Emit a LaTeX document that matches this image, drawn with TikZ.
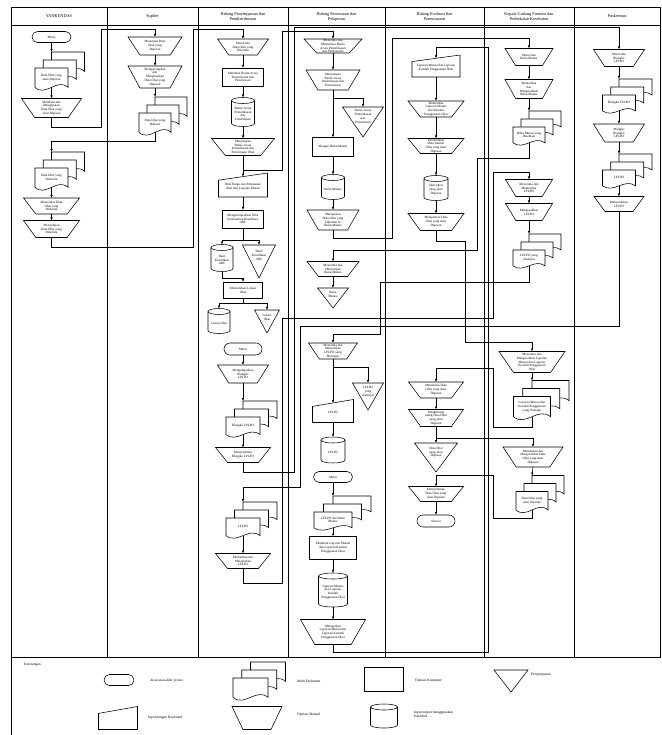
\documentclass[tikz,border=0pt]{standalone}
\usepackage{fontspec}
\setmainfont{Liberation Serif}
\usetikzlibrary{shapes.misc,arrows.meta,calc}
\newcommand\fsA{\fontsize{3.3}{3.8}\selectfont}
\newcommand\fsH{\fontsize{4.3}{5}\selectfont}
\newcommand\fsL{\fontsize{3.6}{4.2}\selectfont}
\tikzset{
 shp/.style={draw=black, line width=0.55pt, fill=white},
 ln/.style={draw=black, line width=0.55pt},
 con/.style={draw=black, line width=0.55pt, -{Latex[length=3pt,width=2.4pt]}},
 lane/.style={draw=black, line width=0.7pt},
 txt/.style={font=\fsA, align=center, inner sep=0pt},
 box/.style={draw=none, inner sep=0pt, outer sep=0pt},
 lgt/.style={font=\fsL, anchor=west, align=left, inner sep=0pt},
 hdr/.style={font=\fsH, align=center, inner sep=0pt},
}
% manual operation (trapezoid)
\newcommand\xMO[6]{%
 \pgfmathsetmacro\MOa{#2-#4/2}\pgfmathsetmacro\MOb{#2+#4/2}%
 \pgfmathsetmacro\MOc{#2+0.28*#4}\pgfmathsetmacro\MOd{#2-0.28*#4}%
 \pgfmathsetmacro\MOt{#3-#5/2}\pgfmathsetmacro\MOu{#3+#5/2}%
 \draw[shp] (\MOa,\MOt) -- (\MOb,\MOt) -- (\MOc,\MOu) -- (\MOd,\MOu) -- cycle;
 \node[box, minimum width=#4pt, minimum height=#5pt] (#1) at (#2,#3) {};
 \node[txt] (#1-t) at (#2,#3) {#6};
}
% process rectangle
\newcommand\xRC[6]{%
 \node[box, shp, minimum width=#4pt, minimum height=#5pt] (#1) at (#2,#3) {};
 \node[txt] (#1-t) at (#2,#3) {#6};
}
% terminator
\newcommand\xTE[6]{%
 \node[box, shp, rounded rectangle, minimum width=#4pt, minimum height=#5pt] (#1) at (#2,#3) {};
 \node[txt] (#1-t) at (#2,#3) {#6};
}
% manual input
\newcommand\xIN[6]{%
 \pgfmathsetmacro\INs{0.3*#5}%
 \pgfmathsetmacro\INa{#2-#4/2}\pgfmathsetmacro\INb{#2+#4/2}%
 \pgfmathsetmacro\INt{#3-#5/2}\pgfmathsetmacro\INu{#3+#5/2}\pgfmathsetmacro\INv{#3-#5/2+\INs}%
 \draw[shp] (\INa,\INv) -- (\INb,\INt) -- (\INb,\INu) -- (\INa,\INu) -- cycle;
 \pgfmathsetmacro\INc{#3+\INs/4}\pgfmathsetmacro\INh{#5-\INs/2}%
 \node[box, minimum width=#4pt, minimum height=\INh pt] (#1) at (#2,\INc) {};
 \node[txt] (#1-t) at (#2,\INc) {#6};
}
% cylinder (harddisk)
\newcommand\xCY[6]{%
 \pgfmathsetmacro\CYa{#2-#4/2}\pgfmathsetmacro\CYb{#2+#4/2}%
 \pgfmathsetmacro\CYt{#3-#5/2+3}\pgfmathsetmacro\CYu{#3+#5/2-3}\pgfmathsetmacro\CYr{#4/2}%
 \draw[shp] (\CYa,\CYt) -- (\CYa,\CYu) arc[start angle=180,end angle=360,x radius=\CYr pt,y radius=3pt] -- (\CYb,\CYt) arc[start angle=0,end angle=180,x radius=\CYr pt,y radius=3pt] -- cycle;
 \draw[ln] (\CYb,\CYt) arc[start angle=0,end angle=-180,x radius=\CYr pt,y radius=3pt];
 \node[box, minimum width=#4pt, minimum height=#5pt] (#1) at (#2,#3) {};
 \node[txt] (#1-t) at (#2,#3+2) {#6};
}
% storage triangle
\newcommand\xTR[6]{%
 \pgfmathsetmacro\TRa{#2-#4/2}\pgfmathsetmacro\TRb{#2+#4/2}%
 \pgfmathsetmacro\TRt{#3-#5/2}\pgfmathsetmacro\TRu{#3+#5/2}\pgfmathsetmacro\TRc{#3-0.18*#5}%
 \draw[shp] (\TRa,\TRt) -- (\TRb,\TRt) -- (#2,\TRu) -- cycle;
 \node[box, minimum width=#4pt, minimum height=#5pt] (#1) at (#2,#3) {};
 \node[txt] (#1-t) at (#2,\TRc) {#6};
}
% single document page
\newcommand\xDOC[4]{%
 \pgfmathsetmacro\Dl{#1-#3/2}\pgfmathsetmacro\Dr{#1+#3/2}%
 \pgfmathsetmacro\Dt{#2-#4/2}\pgfmathsetmacro\Db{#2+0.38*#4}%
 \pgfmathsetmacro\Dq{0.45*#4}\pgfmathsetmacro\Dm{#1+#3/6}\pgfmathsetmacro\Dn{#1-#3/6}%
 \pgfmathsetmacro\Dbu{\Db-\Dq}\pgfmathsetmacro\Dbd{\Db+\Dq}%
 \draw[shp] (\Dl,\Dt) -- (\Dr,\Dt) -- (\Dr,\Db) .. controls (\Dm,\Dbu) and (\Dn,\Dbd) .. (\Dl,\Db) -- cycle;
}
% multi document
\newcommand\xMD[6]{%
 \pgfmathsetmacro\MDdx{#4/4}%
 \foreach \k in {2,1,0}{\xDOC{#2+\k*\MDdx}{#3-\k*8}{#4}{#5}}%
 \pgfmathsetmacro\MDc{#3-0.06*#5}\pgfmathsetmacro\MDh{0.88*#5}\pgfmathsetmacro\MDi{#3-#5/2-16}%
 \node[box, minimum width=#4pt, minimum height=\MDh pt] (#1) at (#2,\MDc) {};
 \coordinate (#1-in) at (#2,\MDi);
 \node[txt] (#1-t) at (#2,\MDc) {#6};
}
\begin{document}
\begin{tikzpicture}[x=1pt,y=-1pt]
\useasboundingbox (0,0) rectangle (661,735);
% ---------- swimlanes ----------
\draw[lane] (11,7.5) rectangle (660.5,657);
\draw[lane] (11,25) -- (660.5,25);
\foreach \xx in {107,198,288,385,484,574} \draw[lane] (\xx,7.5) -- (\xx,657);
\draw[lane] (11,657) -- (11,735);
\node[hdr] (h1) at (59,16.5) {YANKENDAS};
\node[hdr] (h2) at (152.5,16.5) {Suplier};
\node[hdr] (h3) at (243,16.5) {Bidang Penyimpanan dan\\Pendistribusian};
\node[hdr] (h4) at (336.5,16.5) {Bidang Pencatatan dan\\Pelaporan};
\node[hdr] (h5) at (434.5,16.5) {Bidang Evaluasi dan\\Perencanaan};
\node[hdr] (h6) at (529,16.5) {Kepala Gudang Farmasi dan\\Perbekalan Kesehatan};
\node[hdr] (h7) at (617,16.5) {Puskesmas};
% ---------- lane 1 ----------
\xTE{y0}{51.5}{37}{39}{11}{Mulai}
\xMD{y1}{51.5}{79}{33}{22}{Data Obat yang\\akan Dipesan}
\xMO{y2}{51.5}{108}{60}{19}{Membuat dan\\Mengajukan\\Data Obat yang\\akan Dipesan}
\xMD{y3}{51.5}{179}{33}{22}{Data Obat yang\\Diterima}
\xMO{y4}{51.5}{206}{56}{16}{Memeriksa Data\\Obat yang\\Diterima}
\xMO{y5}{51.5}{229}{56}{17}{Menyimpan\\Data Obat yang\\Diterima}
% ---------- lane 2 ----------
\xMO{s1}{155}{46}{54}{18}{Menerima Data\\Obat yang\\Dipesan}
\xMO{s2}{155}{77}{54}{22}{Mempersiapkan\\dan\\Mengirimkan\\Data Obat yang\\Dipesan}
\xMD{s3}{155}{124}{32}{22}{Data Obat yang\\Dikirim}
% ---------- lane 3 ----------
\xMO{p1}{243}{47}{51}{16}{Menerima\\Data Obat yang\\Diterima}
\xRC{p2}{243}{77}{41}{18}{Membuat Berita Acara\\Pemeriksaan dan\\Penerimaan}
\xCY{p3}{243}{112}{23}{29}{Berita Acara\\Pemeriksaan\\dan\\Penerimaan}
\xMO{p4}{243}{147}{63}{17}{Menyimpan\\Berita Acara\\Pemeriksaan dan\\Penerimaan Obat}
\xIN{p5}{243}{185}{49}{24}{Data Harga dan Pemakaian\\Obat dari Laporan Mutasi}
\xRC{p6}{243}{219}{41}{18}{Mengelompokkan Obat\\berdasarkan Klasifikasi\\ABC}
\xCY{p7}{222}{258}{22}{27}{Hasil\\Klasifikasi\\ABC}
\xTR{p8}{259}{261.5}{33}{33}{Hasil\\Klasifikasi\\ABC}
\xRC{p9}{243}{290}{39}{16}{Menentukan Lokasi\\Obat}
\xCY{p10}{219}{321}{22}{25}{Lokasi Obat}
\xTR{p11}{267}{321.5}{25}{23}{Lokasi\\Obat}
\xTE{p12}{243}{349}{38}{12}{Mulai}
\xMO{p13}{243}{374}{51}{18}{Mengumpulkan\\Blangko\\LPLPO}
\xMD{p14}{243}{427}{34}{20}{Blangko LPLPO}
\xMO{p15}{243}{455}{55}{15}{Menyerahkan\\Blangko LPLPO}
\xMD{p16}{243}{528}{34}{20}{LPLPO}
\xMO{p17}{243}{561}{55}{15}{Memeriksa dan\\Melaporkan\\LPLPO}
% ---------- lane 4 ----------
\xMO{q1}{333}{46}{58}{14}{Menerima dan\\Memeriksa Berita\\Acara Pemeriksaan\\dan Penerimaan}
\xMO{q2}{333}{80}{54}{20}{Menyimpan\\Berita Acara\\Pemeriksaan dan\\Penerimaan}
\xTR{q3}{363}{122}{41}{30}{Berita Acara\\Pemeriksaan\\dan\\Penerimaan}
\xRC{q4}{333}{147}{41}{19}{Mengisi Buku Mutasi}
\xCY{q5}{333}{187}{23}{25}{Buku Mutasi}
\xMO{q6}{333}{220}{52}{20}{Melaporkan\\Data Obat yang\\Diterima di\\Buku Mutasi}
\xMO{q7}{333}{269}{52}{15}{Menerima dan\\Menyimpan\\Buku Mutasi}
\xTR{q8}{333}{298}{31}{20}{Buku\\Mutasi}
\xMO{q9}{333}{351}{49}{16}{Menerima dan\\Menyimpan\\LPLPO yang\\Disetujui}
\xTR{q10}{368}{396.5}{31}{27}{LPLPO\\yang\\disetujui}
\xIN{q11}{333}{411}{41}{23}{LPLPO}
\xCY{q12}{333}{450}{24}{26}{LPLPO}
\xTE{q13}{333}{477}{39}{11}{Mulai}
\xMD{q14}{333}{521}{38}{18}{LPLPO dan Buku\\Mutasi}
\xRC{q15}{333}{548}{47}{23}{Membuat Laporan Mutasi\\dan Laporan Kendali\\Penggunaan Obat}
\xCY{q16}{333}{590}{29}{34}{Laporan Mutasi\\dan Laporan\\Kendali\\Penggunaan Obat}
\xMO{q17}{333}{632}{65}{25}{Melaporkan\\Laporan Mutasi dan\\Laporan Kendali\\Penggunaan Obat}
% ---------- lane 5 ----------
\xIN{t1}{436}{66}{48}{22}{Laporan Mutasi dan Laporan\\Kendali Penggunaan Obat}
\xMO{t2}{436}{109}{56}{16}{Memeriksa\\Laporan Mutasi\\dan Kendali\\Penggunaan Obat}
\xMO{t3}{436}{146}{56}{15}{Menentukan\\Data Jumlah\\Obat yang akan\\Dipesan}
\xCY{t4}{436}{188}{24}{25}{Data Obat\\yang akan\\Dipesan}
\xMO{t5}{436}{222}{56}{17}{Melaporkan Data\\Obat yang akan\\Dipesan}
\xMO{t6}{436}{390}{55}{16}{Memeriksa Data\\Obat yang akan\\Dipesan}
\xMO{t7}{436}{418}{55}{17}{Menghitung\\ulang Data Obat\\yang akan\\Dipesan}
\xTR{t8}{436}{457.5}{43}{29}{Data Obat\\yang akan\\Dipesan}
\xMO{t9}{436}{494}{55}{15}{Menyerahkan\\Data Obat yang\\akan Dipesan}
\xTE{t10}{436}{521}{38}{12}{Selesai}
% ---------- lane 6 ----------
\xMO{r1}{529}{57}{48}{17}{Menerima\\Buku Mutasi}
\xMO{r2}{529}{89}{48}{19}{Memeriksa\\dan\\Mengesahkan\\Buku Mutasi}
\xMD{r3}{529}{136}{32}{18}{Buku Mutasi yang\\Disahkan}
\xMO{r4}{529}{188}{47}{17}{Menerima dan\\Memeriksa\\LPLPO}
\xMO{r5}{529}{212}{47}{17}{Mengesahkan\\LPLPO}
\xMD{r6}{529}{259}{32}{18}{LPLPO yang\\disetujui}
\xMO{r7}{532}{362}{66}{21}{Menerima dan\\Mengesahkan Laporan\\Mutasi dan Laporan\\Kendali Penggunaan\\Obat}
\xMD{r8}{532}{408}{37}{23}{Laporan Mutasi dan\\Kendali Penggunaan\\yang disetujui}
\xMO{r9}{533}{457}{60}{20}{Memeriksa dan\\Mengesahkan Data\\Obat yang akan\\Dipesan}
\xMD{r10}{532}{502}{32}{21}{Data Obat yang\\akan Dipesan}
% ---------- lane 7 ----------
\xMO{u1}{619}{58}{51}{17}{Menerima\\Blangko\\LPLPO}
\xMD{u2}{619}{104}{33}{18}{Blangko LPLPO}
\xMO{u3}{619}{133}{51}{18}{Mengisi\\Blangko\\LPLPO}
\xMD{u4}{619}{179}{33}{18}{LPLPO}
\xMO{u5}{619}{204}{50}{15}{Menyerahkan\\LPLPO}
% ---------- connectors ----------
% lane 1 / 2
\draw[con] (y0.south) -- (y1-in);
\draw[con] (y1.south) -- (y2.north);
\draw[con] (y2.south) -- ++(0,10) -| (101,29.5) -| (s1.north);
\draw[con] (s1.south) -- (s2.north);
\draw[con] (s2.south) -- (s3-in);
\draw[con] (s3.south) -- ++(0,9) -| (y3-in);
\draw[con] (y3.south) -- (y4.north);
\draw[con] (y4.south) -- (y5.north);
\draw[con] (y5.south) -- ++(0,10) -| (193,29) -| (p1.north);
% lane 3
\draw[con] (p1.south) -- (p2.north);
\draw[con] (p2.south) -- (p3.north);
\draw[con] (p3.south) -- (p4.north);
\draw[con] (p4.south) -- (p5.north);
\draw[con] (p4.south) -- ++(0,15) -| (282,31) -| (q1.north);
\draw[con] (p5.south) -- (p6.north);
\draw[con] (p6.south) -- ++(0,12) -| (p7.north);
\draw[con] (p6.south) -- ++(0,12) -| (p8.north);
\draw[con] (p7.south) -- ++(0,7) -| (p9.north);
\draw[con] (p9.south) -- ++(0,5) -| (p10.north);
\draw[con] (p9.south) -- ++(0,5) -| (p11.north);
\draw[con] (p12.south) -- (p13.north);
\draw[con] (p13.south) -- (p14-in);
\draw[con] (p14.south) -- (p15.north);
\draw[con] (p15.south) -- ++(0,10) -| (294,27.5) -| (u1.north);
\draw[con] (p16.south) -- (p17.north);
\draw[con] (p17.south) -- ++(0,15) -| (282,318) -| (493,172) -| (r4.north);
% lane 4
\draw[con] (q1.south) -- (q2.north);
\draw[con] (q2.south) -- (q4.north);
\draw[con] (q2.south) -- ++(0,8) -| (q3.north);
\draw[con] (q4.south) -- (q5.north);
\draw[con] (q5.south) -- (q6.north);
\draw[con] (q6.south) -- ++(0,8) -| (392,38) -| (r1.north);
\draw[con] (q7.south) -- (q8.north);
\draw[con] (q9.south) -- (q11.north);
\draw[con] (q9.south) -- ++(0,8) -| (q10.north);
\draw[con] (q11.south) -- (q12.north);
\draw[con] (q13.south) -- (q14-in);
\draw[con] (q14.south) -- (q15.north);
\draw[con] (q15.south) -- (q16.north);
\draw[con] (q16.south) -- (q17.north);
\draw[con] (q17.south) -- ++(0,8) -| (488,47) -| (t1.north);
% lane 5
\draw[con] (t1.south) -- (t2.north);
\draw[con] (t2.south) -- (t3.north);
\draw[con] (t3.south) -- (t4.north);
\draw[con] (t4.south) -- (t5.north);
\draw[con] (t5.south) -- ++(0,11) -| (465,342) -| (r7.north);
\draw[con] (t6.south) -- (t7.north);
\draw[con] (t7.south) -- (t8.north);
\draw[con] (t7.south) -- ++(0,11.5) -| (r9.north);
\draw[con] (t9.south) -- (t10.north);
% lane 6
\draw[con] (r1.south) -- (r2.north);
\draw[con] (r2.south) -- (r3-in);
\draw[con] (r3.south) -- ++(0,15) -| (477,250) -| (q7.north);
\draw[con] (r4.south) -- (r5.north);
\draw[con] (r5.south) -- (r6-in);
\draw[con] (r6.south) -- ++(0,16) -| (380,334) -| (q9.north);
\draw[con] (r7.south) -- (r8-in);
\draw[con] (r8.south) -- ++(0,11) -| (493,368) -| (t6.north);
\draw[con] (r9.south) -- (r10-in);
\draw[con] (r10.south) -- ++(0,8) -| (493,475) -| (t9.north);
% lane 7
\draw[con] (u1.south) -- (u2-in);
\draw[con] (u2.south) -- (u3.north);
\draw[con] (u3.south) -- (u4-in);
\draw[con] (u4.south) -- (u5.north);
\draw[con] (u5.south) -- ++(0,114.5) -| (300,487) -| (p16-in);
% ---------- legend ----------
\node[lgt] (k0) at (24,665) {Keterangan};
\xTE{lg1}{119}{680}{30}{11}{}
\node[lgt] (k1) at (150,681) {Awal atau akhir proses};
\xMD{lg2}{250.5}{689}{35}{22}{}
\node[lgt] (k2) at (297,681) {Multi Dokumen};
\xRC{lg3}{384}{679}{39}{24}{}
\node[lgt] (k3) at (415,681) {Operasi Komputer};
\xTR{lg4}{511}{681}{34}{22}{}
\node[lgt] (k4) at (531,675) {Penyimpanan};
\xIN{lg5}{118}{718}{39}{23}{}
\node[lgt] (k5) at (148,718) {Input dengan Keyboard};
\xMO{lg6}{257}{718}{50}{23}{}
\node[lgt] (k6) at (297,715) {Operasi Manual};
\xCY{lg7}{384}{716}{27}{24}{}
\node[lgt] (k7) at (414,714) {Input output menggunakan\\Harddisk};
\end{tikzpicture}
\end{document}
